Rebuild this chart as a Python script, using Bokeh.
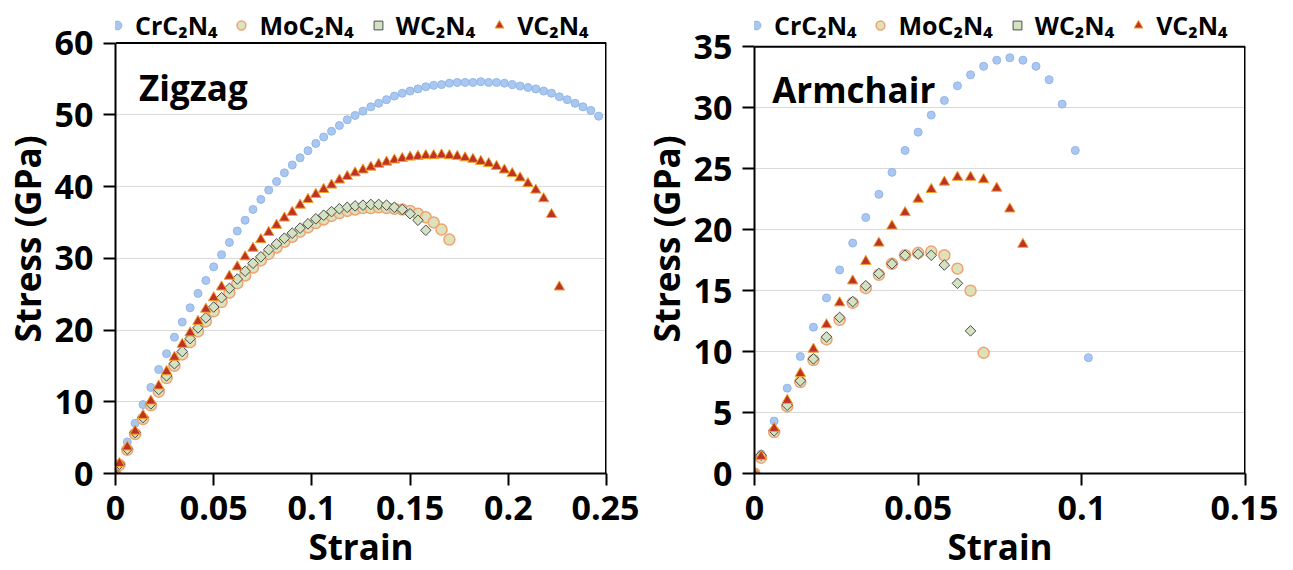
import numpy as np
from bokeh.plotting import figure
from bokeh.layouts import row
from bokeh.models import Legend, LegendItem, FixedTicker, Label
from bokeh.embed import file_html
from bokeh.resources import INLINE

FONT = "Open Sans"

names = ["CrC₂N₄", "MoC₂N₄", "WC₂N₄", "VC₂N₄"]

# ---------------- Zigzag data ----------------
zz_strain = [0, 0.002, 0.006, 0.010, 0.014, 0.018, 0.022, 0.026, 0.030, 0.034, 0.038,
             0.042, 0.046, 0.050, 0.054, 0.058, 0.062, 0.066, 0.070, 0.074, 0.078,
             0.082, 0.086, 0.090, 0.094, 0.098, 0.102, 0.106, 0.110, 0.114, 0.118,
             0.122, 0.126, 0.130, 0.134, 0.138, 0.142, 0.146, 0.150, 0.154, 0.158,
             0.162, 0.166, 0.170, 0.174, 0.178, 0.182, 0.186, 0.190, 0.194, 0.198,
             0.202, 0.206, 0.210, 0.214, 0.218, 0.222, 0.226, 0.230, 0.234, 0.238,
             0.242, 0.246]
zz_crc = [0, 1.3, 4.4, 7.0, 9.6, 12.0, 14.5, 16.7, 19.0, 21.1, 23.1,
          25.1, 26.9, 28.8, 30.5, 32.2, 33.8, 35.3, 36.8, 38.2, 39.5,
          40.7, 41.9, 43.0, 44.0, 45.0, 46.0, 46.9, 47.7, 48.5, 49.3,
          49.9, 50.5, 51.1, 51.6, 52.1, 52.6, 53.0, 53.3, 53.6, 53.9,
          54.1, 54.2, 54.4, 54.5, 54.5, 54.5, 54.6, 54.5, 54.5, 54.4,
          54.2, 54.0, 53.8, 53.6, 53.3, 53.0, 52.5, 52.1, 51.6, 51.1,
          50.6, 49.8]
zz_moc = [0, 1.2, 3.3, 5.5, 7.6, 9.5, 11.4, 13.3, 15.0, 16.6, 18.3,
          19.8, 21.2, 22.6, 23.9, 25.2, 26.5, 27.6, 28.7, 29.7, 30.6,
          31.5, 32.3, 33.0, 33.7, 34.3, 34.9, 35.4, 35.9, 36.3, 36.6,
          36.8, 37.0, 37.0, 37.1, 37.0, 36.9, 36.8, 36.6, 36.2, 35.7,
          35.0, 34.0, 32.6]
zz_wc = [0, 1.3, 3.4, 5.7, 7.8, 9.7, 11.7, 13.6, 15.3, 17.0, 18.8,
         20.3, 21.7, 23.2, 24.5, 25.8, 27.1, 28.2, 29.3, 30.2, 31.2,
         32.0, 32.8, 33.5, 34.2, 34.8, 35.5, 36.0, 36.5, 36.9, 37.1,
         37.3, 37.4, 37.5, 37.5, 37.4, 37.1, 36.8, 36.2, 35.3, 33.9]
zz_vc = [0, 1.4, 3.7, 5.9, 8.1, 10.1, 12.2, 14.2, 16.2, 18.0, 19.6,
         21.2, 22.9, 24.5, 26.0, 27.5, 28.8, 30.2, 31.4, 32.6, 33.6,
         34.6, 35.6, 36.4, 37.4, 38.2, 38.9, 39.6, 40.2, 40.9, 41.4,
         41.9, 42.3, 42.7, 43.1, 43.4, 43.7, 43.9, 44.1, 44.2, 44.3,
         44.3, 44.4, 44.3, 44.2, 44.0, 43.8, 43.5, 43.2, 42.8, 42.3,
         41.8, 41.2, 40.4, 39.5, 38.3, 36.1, 26.0]

# ---------------- Armchair data ----------------
ac_strain = [0, 0.002, 0.006, 0.010, 0.014, 0.018, 0.022, 0.026, 0.030, 0.034, 0.038,
             0.042, 0.046, 0.050, 0.054, 0.058, 0.062, 0.066, 0.070, 0.074, 0.078,
             0.082, 0.086, 0.090, 0.094, 0.098, 0.102]
ac_crc = [0, 1.6, 4.3, 7.0, 9.6, 12.0, 14.4, 16.7, 18.9, 21.0, 22.9,
          24.7, 26.5, 28.0, 29.4, 30.6, 31.8, 32.7, 33.4, 33.9, 34.1,
          33.9, 33.4, 32.3, 30.3, 26.5, 9.5]
ac_moc = [0, 1.3, 3.4, 5.5, 7.5, 9.3, 11.0, 12.6, 14.0, 15.2, 16.3,
          17.2, 17.9, 18.1, 18.2, 17.9, 16.8, 15.0, 9.9]
ac_wc = [0, 1.5, 3.5, 5.6, 7.6, 9.4, 11.2, 12.8, 14.1, 15.4, 16.4,
         17.2, 17.9, 18.0, 17.9, 17.1, 15.6, 11.7]
ac_vc = [0, 1.4, 3.7, 6.0, 8.2, 10.2, 12.2, 14.0, 15.8, 17.4, 18.9,
         20.3, 21.4, 22.5, 23.3, 23.9, 24.3, 24.3, 24.1, 23.4, 21.7, 18.8]

zz_xticks = [0, 0.05, 0.1, 0.15, 0.2, 0.25]
zz_xlabels = ["0", "0.05", "0.1", "0.15", "0.2", "0.25"]
zz_yticks = [0, 10, 20, 30, 40, 50, 60]
ac_xticks = [0, 0.05, 0.1, 0.15]
ac_xlabels = ["0", "0.05", "0.1", "0.15"]
ac_yticks = [0, 5, 10, 15, 20, 25, 30, 35]

# frame extends above the axes box so that the legend fits inside it
FW, FH = 491, 469
BL, BR, BT, BB = 111, 33, 4, 81
BOX_TOP_PX = {60: 50.5 - 12, 35: 54.3 - 12}   # distance of box top below frame top


def make_fig(strain, series, xmax, ymax, xticks, xlabels, yticks, title, title_xy):
    box_h = FH - BOX_TOP_PX[ymax]
    y_end = ymax * FH / box_h
    p = figure(frame_width=FW, frame_height=FH, x_range=(0, xmax), y_range=(0, y_end),
               output_backend="svg", toolbar_location=None,
               min_border_left=BL, min_border_right=BR,
               min_border_top=BT, min_border_bottom=BB)
    p.background_fill_color = "white"
    p.border_fill_color = "white"
    p.outline_line_color = None
    p.xgrid.visible = False
    p.ygrid.grid_line_color = "#d9d9d9"
    p.ygrid.grid_line_width = 1

    # top and right edges of the axes box
    p.line([0, xmax], [ymax, ymax], line_color="black", line_width=2)
    p.line([xmax, xmax], [0, ymax], line_color="black", line_width=3)

    crc, moc, wc, vc = series
    r1 = p.scatter(strain[:len(crc)], crc, marker="circle", size=8,
                   fill_color="#a9c7f0", line_color="#93b7e8", line_width=1)
    r2 = p.scatter(strain[:len(moc)], moc, marker="circle", size=11,
                   fill_color="#d9dfb6", line_color="#f0a270", line_width=1.5,
                   fill_alpha=0.9)
    r3 = p.scatter(strain[:len(wc)], wc, marker="square", size=7.5, angle=np.pi / 4,
                   fill_color="#d3e2c3", line_color="#4d4d4d", line_width=1)
    r4 = p.scatter(strain[:len(vc)], vc, marker="triangle", size=10.5,
                   fill_color="#bf3326", line_color="#f2a22a", line_width=1)

    p.xaxis.ticker = FixedTicker(ticks=xticks)
    p.xaxis.major_label_overrides = {t: l for t, l in zip(xticks, xlabels)}
    p.yaxis.ticker = FixedTicker(ticks=yticks)
    p.yaxis.bounds = (0, ymax)
    p.xaxis.axis_label = "Strain"
    p.yaxis.axis_label = "Stress (GPa)"
    for ax in p.axis:
        ax.axis_line_width = 2
        ax.axis_line_color = "black"
        ax.major_tick_line_width = 2
        ax.major_tick_out = 12
        ax.major_tick_in = 0
        ax.minor_tick_out = 0
        ax.minor_tick_in = 0
        ax.major_label_text_font = FONT
        ax.major_label_text_font_size = "34px"
        ax.major_label_text_font_style = "bold"
        ax.major_label_text_color = "black"
        ax.axis_label_text_font = FONT
        ax.axis_label_text_font_style = "bold"
        ax.axis_label_text_color = "black"
        ax.axis_label_text_font_size = "35px"
    p.xaxis.major_label_standoff = 10
    p.xaxis.axis_label_standoff = 0
    p.yaxis.major_label_standoff = 10
    p.yaxis.axis_label_standoff = 1

    p.add_layout(Label(x=title_xy[0], y=title_xy[1], text=title, text_font=FONT,
                       text_font_size="35px", text_font_style="bold",
                       text_baseline="alphabetic", text_color="black"))

    legend = Legend(items=[LegendItem(label=n, renderers=[r]) for n, r in
                           zip(names, [r1, r2, r3, r4])],
                    orientation="horizontal", location=(-9, 431),
                    label_text_font=FONT, label_text_font_size="25px",
                    label_text_font_style="bold", label_text_color="black",
                    glyph_width=22, glyph_height=22, label_standoff=7,
                    spacing=13, padding=0, margin=0,
                    border_line_color=None, background_fill_alpha=0)
    p.add_layout(legend, "center")
    return p


p1 = make_fig(zz_strain, (zz_crc, zz_moc, zz_wc, zz_vc), 0.25, 60,
              zz_xticks, zz_xlabels, zz_yticks, "Zigzag", (0.012, 53.8))
p2 = make_fig(ac_strain, (ac_crc, ac_moc, ac_wc, ac_vc), 0.15, 35,
              ac_xticks, ac_xlabels, ac_yticks, "Armchair", (0.0054, 31.5))

layout = row(p1, p2)
open("out.html", "w").write(file_html(layout, INLINE))
